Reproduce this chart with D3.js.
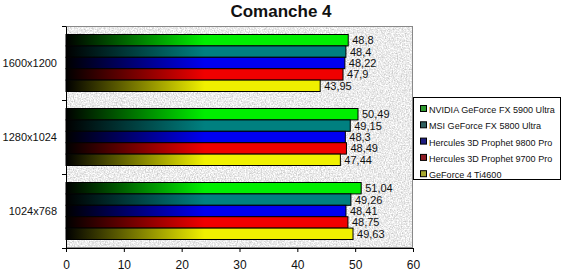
<!DOCTYPE html>
<html lang="en">
<head>
  <meta charset="UTF-8">
  <title>Comanche 4</title>
  <style>
    body { margin: 0; background: #fff; }
    text { font-family: "Liberation Sans", Arial, sans-serif; fill: #111; }
    .title { font-size: 17px; font-weight: bold; }
    .val { font-size: 11px; }
  </style>
</head>
<body>
  <div class="chart"></div>

  <script src="https://cdnjs.cloudflare.com/ajax/libs/d3/7.8.5/d3.min.js"></script>
  <script>
    // data
    const resolutions = ['1600x1200', '1280x1024', '1024x768'];
    const cards = ['NVIDIA GeForce FX 5900 Ultra', 'MSI GeForce FX 5800 Ultra',
      'Hercules 3D Prophet 9800 Pro', 'Hercules 3D Prophet 9700 Pro', 'GeForce 4 Ti4600'];
    const fx5900 = [48.8, 50.49, 51.04];
    const fx5800 = [48.4, 49.15, 49.26];
    const r9800 = [48.22, 48.3, 48.41];
    const r9700 = [47.9, 48.49, 48.75];
    const gf4 = [43.95, 47.44, 49.63];
    const xTicks = [0, 10, 20, 30, 40, 50, 60];

    const seriesVals = [fx5900, fx5800, r9800, r9700, gf4];
    const barColors = ['#00ee00', '#008080', '#0000f0', '#f00000', '#f0f000'];
    const legColors = ['#2e9a2e', '#2f6060', '#1c1c80', '#8e1c24', '#a8a830'];

    const W = 562, H = 272;
    const pLeft = 66, pRight = 413, pTop = 26, pBottom = 248;

    const svg = d3.select('.chart').append('svg')
      .attr('width', W).attr('height', H);

    const defs = svg.append('defs');

    // granite-ish background of the plot
    const f = defs.append('filter').attr('id', 'granite')
      .attr('x', 0).attr('y', 0).attr('width', 1).attr('height', 1)
      .attr('color-interpolation-filters', 'sRGB');
    f.append('feTurbulence').attr('type', 'fractalNoise')
      .attr('baseFrequency', 0.75).attr('numOctaves', 2).attr('seed', 3);
    f.append('feColorMatrix').attr('type', 'matrix')
      .attr('values', '0.42 0 0 0 0.71  0.42 0 0 0 0.71  0.42 0 0 0 0.71  0 0 0 0 1');

    const x = d3.scaleLinear().domain([0, 60]).range([pLeft, pRight]);
    const y = d3.scaleBand().domain(resolutions).range([pTop, pBottom]);
    const inner = d3.scaleBand().domain(cards).range([8.5, y.bandwidth() - 8.5]);

    // gradients black -> colour from left
    barColors.forEach((c, i) => {
      const g = defs.append('linearGradient').attr('id', 'grad' + i)
        .attr('gradientUnits', 'userSpaceOnUse')
        .attr('x1', x(0)).attr('x2', x(24)).attr('y1', 0).attr('y2', 0);
      g.append('stop').attr('offset', 0).attr('stop-color', '#000');
      g.append('stop').attr('offset', 1).attr('stop-color', c);
    });

    svg.append('rect').attr('x', pLeft).attr('y', pTop)
      .attr('width', pRight - pLeft).attr('height', pBottom - pTop)
      .attr('fill', '#eee').attr('filter', 'url(#granite)');
    svg.append('rect').attr('x', pLeft + 0.5).attr('y', pTop + 0.5)
      .attr('width', pRight - pLeft - 1).attr('height', pBottom - pTop - 1)
      .attr('fill', 'none').attr('stroke', '#888');

    svg.append('text').attr('class', 'title')
      .attr('x', 281).attr('y', 17).attr('text-anchor', 'middle')
      .text('Comanche 4');

    // bars
    const groups = svg.selectAll('g.res').data(resolutions).join('g')
      .attr('class', 'res')
      .attr('transform', d => `translate(0,${y(d)})`);

    groups.each(function (res, ri) {
      const g = d3.select(this);
      cards.forEach((c, si) => {
        const v = seriesVals[si][ri];
        g.append('rect')
          .attr('x', x(0)).attr('y', inner(c))
          .attr('width', x(v) - x(0)).attr('height', inner.bandwidth())
          .attr('fill', `url(#grad${si})`)
          .attr('stroke', '#000').attr('stroke-width', 1);
        g.append('text').attr('class', 'val')
          .attr('x', x(v) + 4).attr('y', inner(c) + inner.bandwidth() / 2 + 4)
          .text(String(v).replace('.', ','));
      });
    });

    // axes
    const xAxis = svg.append('g')
      .attr('transform', `translate(0,${pBottom})`)
      .call(d3.axisBottom(x).tickValues(xTicks).tickSize(4).tickPadding(8)
        .tickFormat(d3.format('d')));
    xAxis.selectAll('path, line').attr('stroke', '#000');
    xAxis.selectAll('text').attr('font-size', 12).attr('fill', '#111')
      .attr('font-family', '"Liberation Sans", Arial, sans-serif');

    const yAxis = svg.append('g')
      .attr('transform', `translate(${pLeft},0)`)
      .call(d3.axisLeft(y).tickSize(0).tickPadding(9));
    yAxis.select('.domain').attr('stroke', '#000');
    yAxis.selectAll('text').attr('font-size', 11).attr('fill', '#111')
      .attr('font-family', '"Liberation Sans", Arial, sans-serif');
    // tick marks at band edges
    svg.selectAll('line.edge').data([pTop, y(resolutions[1]), y(resolutions[2]), pBottom])
      .join('line').attr('class', 'edge')
      .attr('x1', pLeft - 4).attr('x2', pLeft)
      .attr('y1', d => d + 0.5).attr('y2', d => d + 0.5)
      .attr('stroke', '#000');

    // legend
    const lg = svg.append('g').attr('transform', 'translate(413,97)');
    lg.append('rect').attr('x', 0.5).attr('y', 0.5).attr('width', 147).attr('height', 82)
      .attr('fill', '#fff').attr('stroke', '#000');
    const legTexts = [];
    cards.forEach((c, i) => {
      const yy = 12 + i * 16.3;
      lg.append('rect').attr('x', 7.5).attr('y', yy - 3.5).attr('width', 6).attr('height', 6)
        .attr('fill', legColors[i]).attr('stroke', '#000');
      legTexts.push(lg.append('text').attr('font-size', 10.5)
        .attr('x', 16).attr('y', yy + 4)
        .text(c));
    });
    // shrink the legend font so the longest label fits the box
    const longest = d3.max(legTexts, t => t.node().getComputedTextLength());
    const fs = Math.min(10.5, 10.5 * 126 / longest);
    legTexts.forEach(t => t.attr('font-size', fs));
  </script>
</body>
</html>
